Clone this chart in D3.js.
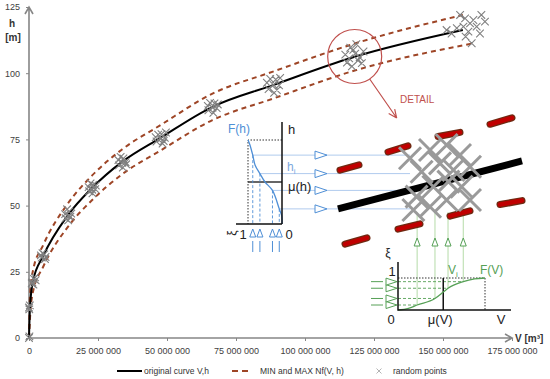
<!DOCTYPE html>
<html><head><meta charset="utf-8">
<script src="https://cdnjs.cloudflare.com/ajax/libs/d3/7.8.5/d3.min.js"></script>
<style>
body{margin:0;background:#fff;}
svg{font-family:"Liberation Sans",Arial,sans-serif;}
</style></head><body>
<svg id="chart" width="550" height="379"></svg>
<script>
// main curve, V in million m3, h in m
const curveV = [0, 0.36, 1.45, 5.1, 14.1, 22.8, 33.7, 47.5, 66.3, 88.4, 118, 157.2];
const curveH = [0, 11.7, 21.5, 30.9, 46.4, 56.6, 66.5, 75.5, 87.2, 95.5, 106.2, 116.3];
const upperV = [0, 0.36, 1.45, 5.1, 14.1, 22.8, 33.7, 47.5, 66.3, 88.4, 118, 157.2];
const upperH = [0, 16, 25.5, 35, 50.8, 61.3, 71.2, 80.3, 92.2, 100.6, 111.2, 122];
const lowerV = [0, 0.36, 1.45, 5.1, 14.1, 22.8, 33.7, 47.5, 66.3, 88.4, 118, 160.5];
const lowerH = [0, 7.5, 17.5, 26.8, 42, 52, 61.8, 70.7, 82.2, 90.4, 101, 111.2];
const randomPoints = [
  [0,0],[0.15,0.6],
  [0,11.5],[0.3,12.3],[0.1,10.8],
  [1.2,21],[1.8,22.3],[2.4,21.8],[1,20.6],[1.6,20.2],[2.2,22.9],
  [4.6,30.4],[5.5,31.6],[6,30.6],[4.9,32],[5.8,29.8],[4.3,31.2],
  [13.3,45.2],[14.6,47.8],[15,45.8],[13.8,48.6],[14.2,44.4],[15.3,47],[13.1,46.8],[14.5,46],
  [21.8,55.4],[23.2,57.8],[24,56.2],[22.3,58.4],[23,54.6],[24.2,57.6],[21.6,57],[22.9,56],
  [32.6,65.2],[34.2,67.8],[35,66.4],[33.2,68.4],[34,64.4],[35.2,65.6],[32.4,67.2],[33.8,66.2],
  [46.2,74.2],[48,77],[49.2,75.6],[46.8,76.8],[48.4,73.4],[49.6,77.6],[45.9,75.8],[47.7,75.2],[48.8,74.4],
  [65,86],[67.2,88.6],[68,86.8],[65.6,88.8],[66.8,85],[68.4,88.2],[64.8,87.6],[66.5,87],
  [86.8,94],[89.4,97.6],[90.6,95.4],[87.4,97.8],[88.8,92.6],[91,98.2],[86.2,96.4],[88.6,95.6],[89.8,93.6],
  [115.2,104],[117.5,108.8],[119.8,106],[116.4,109.6],[120.6,103.8],[118.6,111],[114.6,107],[121.2,108.2],[117,102.6],[119.2,104.8],[116,105.6],[118.2,107.4],
  [163.9,122],[165.2,119.5],[161,120.1],[158,120.7],[155,117],[151.3,116.3],[153.1,115],[157.4,117.6],
  [159.2,115.7],[162.2,117.6],[160.4,111.3],[156.2,122],[159.8,118.8],[163.4,115],[158.2,113.8]
];
const xTicks = [0, 25, 50, 75, 100, 125, 150, 175];
const yTicks = [0, 25, 50, 75, 100, 125];
const detailCenter = [118, 106.3];

// left inset F(h): xi on horizontal, normalised h on vertical
const fhCurveXi = [0, 0.01, 0.08, 0.28, 0.5, 0.65, 0.79, 0.86, 0.95, 1];
const fhCurveH  = [0, 0.1, 0.18, 0.4, 0.5, 0.6, 0.7, 0.82, 0.95, 1];
const hSampleXi = [0.86, 0.65, 0.28, 0.08];
const hSampleH  = [0.82, 0.6, 0.4, 0.18];
const muH = 0.5;

// bottom inset F(V)
const fvCurveV  = [0, 0.12, 0.22, 0.425, 0.52, 0.575, 0.75, 0.88, 1];
const fvCurveXi = [0, 0.05, 0.156, 0.36, 0.56, 0.68, 0.886, 0.97, 1];
const vSampleV  = [0.22, 0.425, 0.575, 0.75];
const vSampleXi = [0.156, 0.36, 0.68, 0.886];
const muV = 0.52;

// detail drawing (own 0-100 units)
const detailLine = [[4, 29.3], [96, 63.6]];
const detailDashes = [[80,89.8,91,94.4],[54,81.1,65,84],[29,70,39,74.4],[5,57,14.5,60.8],
  [60,24.2,70,28],[85,32.5,96,35.3],[34,14.9,45,18.7],[7.5,4.2,18.5,8.7]];
const detailPoints = [[40,65.5],[50,71.4],[58.3,75],[65,67.9],[45.8,55.9],[55,61.9],[61.7,57.1],[70,59.5],
  [43.3,38.1],[51.7,45.2],[59.2,48.8],[65.8,45.2],[70,35.7],[50,30.9],[58.3,35.7],[41.7,28.6]];

const svg = d3.select('#chart');
const x = d3.scaleLinear().domain([0, 175]).range([29, 512]);
const y = d3.scaleLinear().domain([0, 125]).range([338, 7]);
const axisColor = '#868686';
const red = '#c0504d';
const blue = '#4f8fd6', lightBlue = '#b0cbee';
const green = '#56a056', lightGreen = '#b5dba8';

function xMark(cx, cy, s) {
  return `M${cx-s},${cy-s}L${cx+s},${cy+s}M${cx-s},${cy+s}L${cx+s},${cy-s}`;
}

// axes
const gx = svg.append('g').attr('transform', `translate(0,${y(0)})`)
  .call(d3.axisBottom(x).tickValues(xTicks).tickSize(3).tickPadding(7)
    .tickFormat(d => d3.format(',')(d * 1e6).replace(/,/g, ' ')));
gx.select('.domain').remove();
gx.attr('font-size', 9).attr('font-family', null);
gx.selectAll('line').attr('stroke', axisColor);
gx.selectAll('text').attr('fill', '#404040');

const gy = svg.append('g').attr('transform', `translate(${x(0)},0)`)
  .call(d3.axisLeft(y).tickValues(yTicks).tickSize(3).tickPadding(6));
gy.select('.domain').remove();
gy.attr('font-size', 9).attr('font-family', null);
gy.selectAll('line').attr('stroke', axisColor);
gy.selectAll('text').attr('fill', '#404040');

svg.append('path')
  .attr('d', `M${x(0)},${y(0)}H${x(175)}M${x(175)-7},${y(0)-4}L${x(175)},${y(0)}L${x(175)-7},${y(0)+4}`)
  .attr('fill', 'none').attr('stroke', axisColor).attr('stroke-width', 1.6);
svg.append('path')
  .attr('d', `M${x(0)},${y(0)}V${y(125)}M${x(0)-4},${y(125)+7}L${x(0)},${y(125)}L${x(0)+4},${y(125)+7}`)
  .attr('fill', 'none').attr('stroke', axisColor).attr('stroke-width', 1.6);

svg.append('text').attr('x', 12).attr('y', 27).attr('text-anchor', 'middle')
  .attr('font-size', 10).attr('font-weight', 'bold').attr('fill', '#333').text('h');
svg.append('text').attr('x', 13).attr('y', 41).attr('text-anchor', 'middle')
  .attr('font-size', 10).attr('font-weight', 'bold').attr('fill', '#333').text('[m]');
svg.append('text').attr('x', 515).attr('y', 342)
  .attr('font-size', 10).attr('font-weight', 'bold').attr('fill', '#333')
  .text('V [m³]');

// bounds and curve
const line = d3.line().x(d => x(d[0])).y(d => y(d[1])).curve(d3.curveMonotoneX);
[[upperV, upperH], [lowerV, lowerH]].forEach(([vs, hs]) => {
  svg.append('path').datum(vs.map((v, i) => [v, hs[i]]))
    .attr('d', line).attr('fill', 'none')
    .attr('stroke', '#9e4526').attr('stroke-width', 2).attr('stroke-dasharray', '5,4');
});
svg.append('path').datum(curveV.map((v, i) => [v, curveH[i]]))
  .attr('d', line).attr('fill', 'none').attr('stroke', '#000').attr('stroke-width', 2);

svg.append('path')
  .attr('d', randomPoints.map(d => xMark(x(d[0]), y(d[1]), 3.8)).join(''))
  .attr('fill', 'none').attr('stroke', '#808080').attr('stroke-width', 1.1);

// detail circle + arrow
const cx0 = x(detailCenter[0]), cy0 = y(detailCenter[1]);
svg.append('circle').attr('cx', cx0).attr('cy', cy0).attr('r', 27)
  .attr('fill', 'none').attr('stroke', red).attr('stroke-width', 1.2);
svg.append('path')
  .attr('d', `M${cx0+15},${cy0+22.5}L${cx0+42},${cy0+61.5}M${cx0+42},${cy0+61.5}l-2,-9M${cx0+42},${cy0+61.5}l-8,-4.5`)
  .attr('fill', 'none').attr('stroke', red).attr('stroke-width', 1.2);
svg.append('text').attr('x', 400).attr('y', 103).attr('font-size', 10)
  .attr('fill', red).text('DETAIL');

// scales for insets and detail
const detX = d3.scaleLinear().domain([0, 100]).range([330, 530]);
const detY = d3.scaleLinear().domain([0, 100]).range([250, 110]);
const fhXi = d3.scaleLinear().domain([0, 1]).range([282, 248]);
const fhH = d3.scaleLinear().domain([0, 1]).range([224, 140]);
const fvV = d3.scaleLinear().domain([0, 1]).range([398, 485]);
const fvXi = d3.scaleLinear().domain([0, 1]).range([310, 278]);

// connector lines from insets to the detail cloud
hSampleH.forEach((h, i) => {
  svg.append('line').attr('x1', fhXi(hSampleXi[i])).attr('x2', detX(40))
    .attr('y1', fhH(h)).attr('y2', fhH(h))
    .attr('stroke', lightBlue).attr('stroke-width', 1);
});
vSampleV.forEach((v, i) => {
  svg.append('line').attr('x1', fvV(v)).attr('x2', fvV(v))
    .attr('y1', fvXi(vSampleXi[i])).attr('y2', detY(27))
    .attr('stroke', lightGreen).attr('stroke-width', 1);
});

// detail drawing
detailDashes.forEach(d => {
  svg.append('line').attr('x1', detX(d[0])).attr('y1', detY(d[1]))
    .attr('x2', detX(d[2])).attr('y2', detY(d[3]))
    .attr('stroke', '#6e2a12').attr('stroke-width', 7).attr('stroke-linecap', 'round');
  svg.append('line').attr('x1', detX(d[0])).attr('y1', detY(d[1]))
    .attr('x2', detX(d[2])).attr('y2', detY(d[3]))
    .attr('stroke', '#c00000').attr('stroke-width', 4.5).attr('stroke-linecap', 'round');
});
svg.append('line')
  .attr('x1', detX(detailLine[0][0])).attr('y1', detY(detailLine[0][1]))
  .attr('x2', detX(detailLine[1][0])).attr('y2', detY(detailLine[1][1]))
  .attr('stroke', '#000').attr('stroke-width', 7);
svg.append('path')
  .attr('d', detailPoints.map(d => xMark(detX(d[0]), detY(d[1]), 11)).join(''))
  .attr('fill', 'none').attr('stroke', '#9a9a9a').attr('stroke-width', 3);

// ---- left inset F(h)
const dotted = '1.5,1.5';
svg.append('path')
  .attr('d', `M${fhXi(0)},${fhH(1)}H${fhXi(1)}V${fhH(0)}`)
  .attr('fill', 'none').attr('stroke', '#333').attr('stroke-dasharray', dotted);
svg.append('line').attr('x1', fhXi(1)).attr('x2', fhXi(0)).attr('y1', fhH(muH)).attr('y2', fhH(muH))
  .attr('stroke', '#333').attr('stroke-width', 1.5);
hSampleH.forEach((h, i) => {
  const px = fhXi(hSampleXi[i]);
  svg.append('line').attr('x1', px).attr('x2', px).attr('y1', fhH(h)).attr('y2', fhH(0))
    .attr('stroke', blue).attr('stroke-width', 0.9).attr('stroke-dasharray', '3,2');
  svg.append('path').attr('d', `M${px},229L${px+3},237L${px-3},237Z`)
    .attr('fill', '#fff').attr('stroke', blue).attr('stroke-width', 1);
  svg.append('line').attr('x1', px).attr('x2', px).attr('y1', 241).attr('y2', 252)
    .attr('stroke', blue).attr('stroke-width', 1);
  svg.append('path').attr('d', `M315,${fhH(h)-4}L327,${fhH(h)}L315,${fhH(h)+4}Z`)
    .attr('fill', '#fff').attr('stroke', blue).attr('stroke-width', 1);
});
svg.append('path').datum(fhCurveXi.map((v, i) => [v, fhCurveH[i]]))
  .attr('d', d3.line().x(d => fhXi(d[0])).y(d => fhH(d[1])).curve(d3.curveCatmullRom.alpha(0.5)))
  .attr('fill', 'none').attr('stroke', blue).attr('stroke-width', 1.3);
svg.append('path').attr('d', `M${fhXi(0)},${fhH(0)}V122M236,${fhH(0)}H${fhXi(0)}`)
  .attr('fill', 'none').attr('stroke', '#111').attr('stroke-width', 1.5);

svg.append('text').attr('x', 228).attr('y', 133).attr('font-size', 12).attr('fill', blue).text('F(h)');
svg.append('text').attr('x', 288).attr('y', 134).attr('font-size', 13).attr('fill', '#222').text('h');
const hi = svg.append('text').attr('x', 287).attr('y', 171).attr('font-size', 12).attr('fill', '#7ba7dd');
hi.append('tspan').text('h');
hi.append('tspan').attr('font-size', 8).attr('dy', 3).text('i');
svg.append('text').attr('x', 288).attr('y', 191).attr('font-size', 13).attr('fill', '#222').text('μ(h)');
svg.append('text').attr('transform', 'translate(236,233) rotate(-90)').attr('text-anchor', 'middle')
  .attr('font-size', 12).attr('fill', '#222').text('ξ');
svg.append('text').attr('x', 243).attr('y', 239).attr('text-anchor', 'middle').attr('font-size', 13).attr('fill', '#222').text('1');
svg.append('text').attr('x', 289).attr('y', 239).attr('text-anchor', 'middle').attr('font-size', 13).attr('fill', '#222').text('0');

// ---- bottom inset F(V)
svg.append('path')
  .attr('d', `M${fvV(0)},${fvXi(1)}H${fvV(1)}V${fvXi(0)}`)
  .attr('fill', 'none').attr('stroke', '#333').attr('stroke-dasharray', dotted);
vSampleV.forEach((v, i) => {
  const py = fvXi(vSampleXi[i]);
  svg.append('line').attr('x1', fvV(0)).attr('x2', fvV(v)).attr('y1', py).attr('y2', py)
    .attr('stroke', green).attr('stroke-width', 0.9).attr('stroke-dasharray', '3,2');
  svg.append('path').attr('d', `M${fvV(v)},238L${fvV(v)+3},246L${fvV(v)-3},246Z`)
    .attr('fill', '#fff').attr('stroke', green).attr('stroke-width', 1);
  svg.append('path').attr('d', `M386,${py-3.5}L397,${py}L386,${py+3.5}Z`)
    .attr('fill', '#fff').attr('stroke', green).attr('stroke-width', 1);
  svg.append('line').attr('x1', 371).attr('x2', 383).attr('y1', py).attr('y2', py)
    .attr('stroke', green).attr('stroke-width', 1);
});
svg.append('line').attr('x1', fvV(muV)).attr('x2', fvV(muV)).attr('y1', fvXi(0)).attr('y2', fvXi(1))
  .attr('stroke', '#111').attr('stroke-width', 1.5);
svg.append('path').datum(fvCurveV.map((v, i) => [v, fvCurveXi[i]]))
  .attr('d', d3.line().x(d => fvV(d[0])).y(d => fvXi(d[1])).curve(d3.curveMonotoneX))
  .attr('fill', 'none').attr('stroke', green).attr('stroke-width', 1.3);
svg.append('path').attr('d', `M${fvV(0)},262V${fvXi(0)}H511`)
  .attr('fill', 'none').attr('stroke', '#111').attr('stroke-width', 1.5);

svg.append('text').attr('x', 388).attr('y', 257).attr('text-anchor', 'middle').attr('font-size', 12).attr('fill', '#222').text('ξ');
svg.append('text').attr('x', 392).attr('y', 276).attr('text-anchor', 'middle').attr('font-size', 13).attr('fill', '#222').text('1');
svg.append('text').attr('x', 391).attr('y', 324).attr('text-anchor', 'middle').attr('font-size', 13).attr('fill', '#222').text('0');
svg.append('text').attr('x', fvV(muV) - 3).attr('y', 324).attr('text-anchor', 'middle').attr('font-size', 13).attr('fill', '#222').text('μ(V)');
svg.append('text').attr('x', 501).attr('y', 324).attr('text-anchor', 'middle').attr('font-size', 13).attr('fill', '#222').text('V');
const vi = svg.append('text').attr('x', 448).attr('y', 274).attr('font-size', 12).attr('fill', green);
vi.append('tspan').text('V');
vi.append('tspan').attr('font-size', 8).attr('dy', 3).text('i');
svg.append('text').attr('x', 480).attr('y', 274).attr('font-size', 12).attr('fill', green).text('F(V)');

// legend
const lg = svg.append('g').attr('font-size', 8.5).attr('fill', '#333');
lg.append('line').attr('x1', 117).attr('x2', 142).attr('y1', 371).attr('y2', 371)
  .attr('stroke', '#000').attr('stroke-width', 2);
lg.append('text').attr('x', 144).attr('y', 374).text('original curve V,h');
lg.append('line').attr('x1', 232).attr('x2', 251).attr('y1', 371).attr('y2', 371)
  .attr('stroke', '#9e4526').attr('stroke-width', 2).attr('stroke-dasharray', '6,4');
lg.append('text').attr('x', 260).attr('y', 374).text('MIN and MAX Nf(V, h)');
lg.append('path').attr('d', xMark(379, 371, 2.5)).attr('stroke', '#aaa').attr('stroke-width', 0.9);
lg.append('text').attr('x', 393).attr('y', 374).text('random points');
</script>
</body></html>
